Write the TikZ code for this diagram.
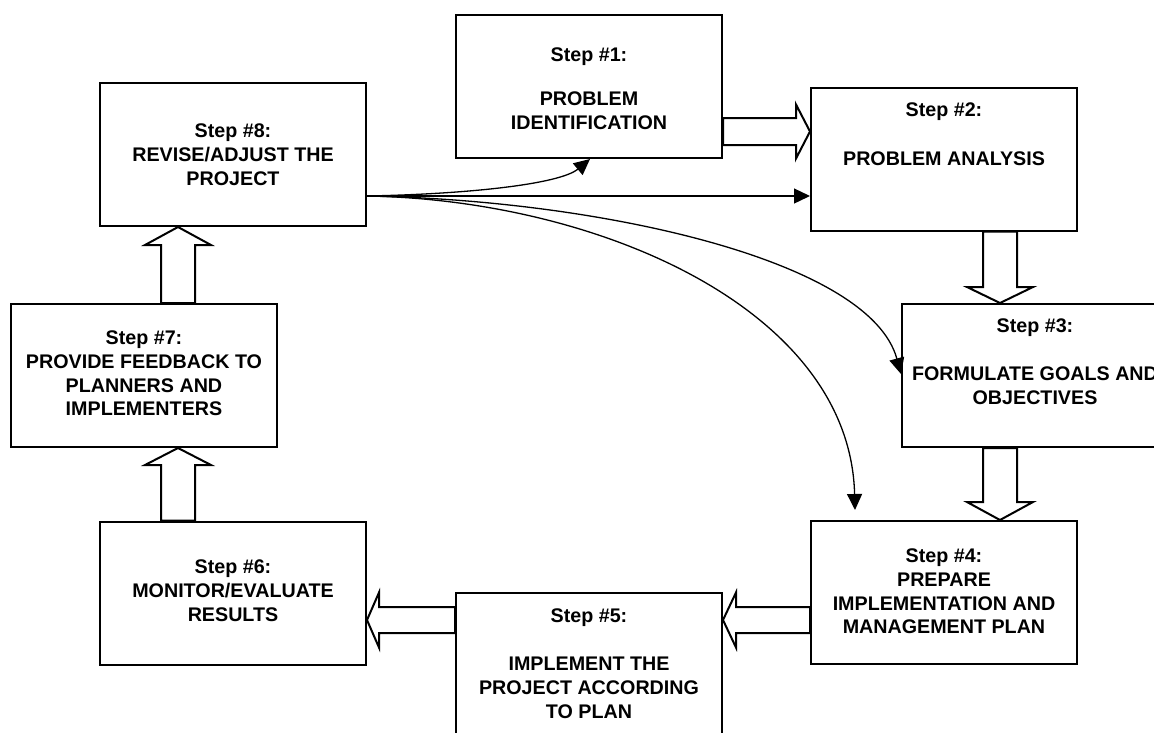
\documentclass[tikz,border=0pt]{standalone}
\usepackage{fontspec}
\setmainfont{Liberation Sans}
\usetikzlibrary{calc,arrows.meta}

\tikzset{
  stepbox/.style={rectangle, draw=black, line width=2pt, fill=white,
    minimum width=266pt, minimum height=143pt, inner sep=0pt},
  steptext/.style={align=center, anchor=north, inner sep=0pt,
    font=\bfseries\fontsize{19.7}{23.7}\selectfont},
  hollowarrow/.style={draw=black, line width=2pt, fill=white, line join=miter},
  flow/.style={draw=black, line width=1.3pt, -{Triangle[length=16pt,width=15pt]}},
}

% hollow block arrow: #1 start, #2 tip, #3 half shaft width,
% #4 half head width, #5 head length
\newcommand{\hollowarrow}[5]{%
  \coordinate (ha-base) at ($(#2)!#5!(#1)$);
  \draw[hollowarrow] ($(#1)!#3!90:(#2)$) -- ($(ha-base)!#3!90:(#2)$)
    -- ($(ha-base)!#4!90:(#2)$) -- (#2) -- ($(ha-base)!#4!-90:(#2)$)
    -- ($(ha-base)!#3!-90:(#2)$) -- ($(#1)!#3!-90:(#2)$) -- cycle;}

\begin{document}
\begin{tikzpicture}[x=1pt, y=-1pt]
\useasboundingbox (0,0) rectangle (1154,732);
\clip (0,0) rectangle (1154,732);

% step boxes
\node[stepbox] (s1) at (589,86.5) {};
\node[stepbox] (s2) at (944,159) {};
\node[stepbox] (s3) at (1035,375.5) {};
\node[stepbox] (s4) at (944,592.5) {};
\node[stepbox] (s5) at (589,664) {};
\node[stepbox] (s6) at (233,593) {};
\node[stepbox] (s7) at (144,375.5) {};
\node[stepbox] (s8) at (233,154.5) {};

% box captions
\node[steptext] (t1) at (s1.north |- 0,47.8) {Step \#1:\\[20.5pt] PROBLEM\\ IDENTIFICATION};
\node[steptext] (t2) at (s2.north |- 0,102.8) {Step \#2:\\[25.5pt] PROBLEM ANALYSIS};
\node[steptext] (t3) at (s3.north |- 0,318.8) {Step \#3:\\[24.5pt] FORMULATE GOALS AND\\ OBJECTIVES};
\node[steptext] (t4) at (s4.north |- 0,548.8) {Step \#4:\\ PREPARE\\ IMPLEMENTATION AND\\ MANAGEMENT PLAN};
\node[steptext] (t5) at (s5.north |- 0,608.8) {Step \#5:\\[24.5pt] IMPLEMENT THE\\ PROJECT ACCORDING\\ TO PLAN};
\node[steptext] (t6) at (s6.north |- 0,559.8) {Step \#6:\\ MONITOR/EVALUATE\\ RESULTS};
\node[steptext] (t7) at (s7.north |- 0,330.8) {Step \#7:\\ PROVIDE FEEDBACK TO\\ PLANNERS AND\\ IMPLEMENTERS};
\node[steptext] (t8) at (s8.north |- 0,123.8) {Step \#8:\\ REVISE/ADJUST THE\\ PROJECT};

% hollow arrows between consecutive steps
\coordinate (a12s) at (s1.east |- 0,131.5);
\coordinate (a12e) at (s2.west |- 0,131.5);
\hollowarrow{a12s}{a12e}{13.5pt}{27pt}{14pt}
\coordinate (a23s) at (s2.south -| 1000,0);
\coordinate (a23e) at (s3.north -| 1000,0);
\hollowarrow{a23s}{a23e}{17pt}{33pt}{16pt}
\coordinate (a34s) at (s3.south -| 1000,0);
\coordinate (a34e) at (s4.north -| 1000,0);
\hollowarrow{a34s}{a34e}{17pt}{33pt}{18pt}
\coordinate (a45s) at (s4.west |- 0,620);
\coordinate (a45e) at (s5.east |- 0,620);
\hollowarrow{a45s}{a45e}{13pt}{27.5pt}{13pt}
\coordinate (a56s) at (s5.west |- 0,620);
\coordinate (a56e) at (s6.east |- 0,620);
\hollowarrow{a56s}{a56e}{13pt}{27.5pt}{12pt}
\coordinate (a67s) at (s6.north -| 178,0);
\coordinate (a67e) at (s7.south -| 178,0);
\hollowarrow{a67s}{a67e}{17pt}{33pt}{17pt}
\coordinate (a78s) at (s7.north -| 178,0);
\coordinate (a78e) at (s8.south -| 178,0);
\hollowarrow{a78s}{a78e}{17pt}{33pt}{18pt}

% feedback links from step 8
\coordinate (r8) at (s8.east |- 0,196);
\draw[flow] (r8) .. controls (470,194) and (560,184) .. (s1.south -| 590,0);
\draw[flow] (r8) -- (s2.west |- 0,196);
\draw[flow] (r8) .. controls (600,200) and (870,260) .. (s3.west |- 0,374);
\draw[flow] (r8) .. controls (600,200) and (850,310) .. (855,510);
\end{tikzpicture}
\end{document}
